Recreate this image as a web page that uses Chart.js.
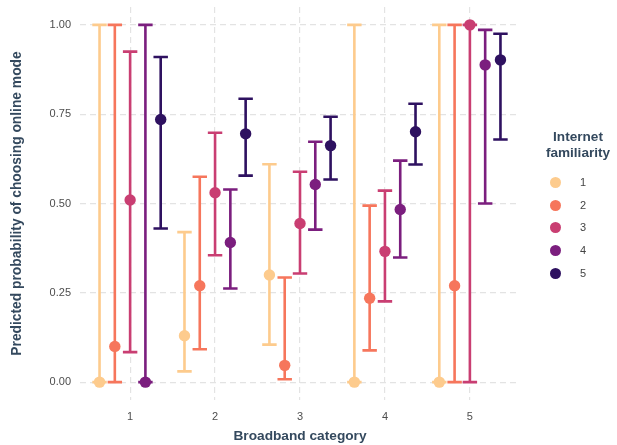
<!DOCTYPE html>
<html>
<head>
<meta charset="utf-8">
<script src="https://cdn.jsdelivr.net/npm/chart.js@4"></script>
<style>
  html, body { margin: 0; padding: 0; background: #fff; }
  #wrap { position: relative; width: 617px; height: 445px; }
  #legend {
    position: absolute; left: 530px; top: 129px; width: 96px;
    font-family: "Liberation Sans", Arial, sans-serif; color: #34495E;
  }
  #legend .title { font-weight: bold; font-size: 13.6px; text-align: center; line-height: 16px; margin-bottom: 16px; }
  #legend .item { position: relative; height: 22.7px; font-size: 11px; color: #444; }
  #legend .dot { position: absolute; left: 19.5px; top: 0px; width: 11px; height: 11px; border-radius: 50%; }
  #legend .lbl { position: absolute; left: 50px; top: -1px; }
</style>
</head>
<body>
<div id="wrap">
  <canvas id="chart" width="617" height="445"></canvas>
  <div id="legend"><div class="title">Internet<br>familiarity</div></div>
</div>
<script>
// Broadband categories (x axis) and internet familiarity levels (groups)
const categories = [1, 2, 3, 4, 5];
const familiarity = ['1', '2', '3', '4', '5'];
const colors = ['#FDCB8D', '#F6765C', '#C93E72', '#7B1E7E', '#2E1160'];

// Predicted probability and confidence limits, one array per familiarity level
const est1 = [0, 0.13, 0.30, 0, 0];
const lo1  = [0, 0.03, 0.105, 0, 0];
const hi1  = [1, 0.42, 0.61, 1, 1];

const est2 = [0.10, 0.27, 0.047, 0.235, 0.27];
const lo2  = [0, 0.092, 0.008, 0.089, 0];
const hi2  = [1, 0.575, 0.293, 0.494, 1];

const est3 = [0.51, 0.53, 0.444, 0.366, 1.0];
const lo3  = [0.084, 0.355, 0.304, 0.226, 0];
const hi3  = [0.925, 0.698, 0.589, 0.536, 1];

const est4 = [0, 0.391, 0.553, 0.483, 0.888];
const lo4  = [0, 0.262, 0.427, 0.349, 0.5];
const hi4  = [1, 0.539, 0.673, 0.62, 0.986];

const est5 = [0.735, 0.695, 0.662, 0.701, 0.902];
const lo5  = [0.43, 0.578, 0.567, 0.609, 0.679];
const hi5  = [0.91, 0.793, 0.743, 0.779, 0.975];

const yTicks = [0, 0.25, 0.5, 0.75, 1];

const estimates = [est1, est2, est3, est4, est5];
const lows = [lo1, lo2, lo3, lo4, lo5];
const highs = [hi1, hi2, hi3, hi4, hi5];

// dodge groups side by side within each category
const dodge = 0.18;
const capHalf = 0.085;

const datasets = familiarity.map((f, i) => ({
  label: f,
  data: categories.map((c, j) => ({
    x: c + (i - 2) * dodge,
    y: estimates[i][j],
    lo: lows[i][j],
    hi: highs[i][j]
  })),
  backgroundColor: colors[i],
  borderColor: colors[i],
  pointRadius: 5.7,
  pointHoverRadius: 5.7,
  borderWidth: 0
}));

// error bars drawn under the points
const errorBars = {
  id: 'errorBars',
  beforeDatasetsDraw(chart) {
    const ctx = chart.ctx;
    const xs = chart.scales.x, ys = chart.scales.y;
    ctx.save();
    ctx.lineWidth = 2.6;
    ctx.lineCap = 'butt';
    chart.data.datasets.forEach(ds => {
      ctx.strokeStyle = ds.borderColor;
      ds.data.forEach(p => {
        const x = xs.getPixelForValue(p.x);
        const x0 = xs.getPixelForValue(p.x - capHalf);
        const x1 = xs.getPixelForValue(p.x + capHalf);
        const yl = ys.getPixelForValue(p.lo);
        const yh = ys.getPixelForValue(p.hi);
        ctx.beginPath();
        ctx.moveTo(x, yl); ctx.lineTo(x, yh);
        ctx.moveTo(x0, yl); ctx.lineTo(x1, yl);
        ctx.moveTo(x0, yh); ctx.lineTo(x1, yh);
        ctx.stroke();
      });
    });
    ctx.restore();
  }
};

const gridStyle = {
  color: '#E3E3E3',
  lineWidth: 1.2,
  drawTicks: false
};

new Chart(document.getElementById('chart').getContext('2d'), {
  type: 'scatter',
  data: { datasets: datasets },
  options: {
    responsive: false,
    animation: false,
    layout: { padding: { top: 7, right: 97, left: 0, bottom: 0 } },
    plugins: {
      legend: { display: false },
      tooltip: { enabled: false }
    },
    scales: {
      x: {
        type: 'linear',
        min: 0.41,
        max: 5.59,
        afterBuildTicks: s => { s.ticks = categories.map(v => ({ value: v })); },
        afterFit: s => { s.height = 45; s.paddingLeft = 0; s.paddingRight = 0; },
        grid: gridStyle,
        border: { display: false, dash: [6, 4] },
        ticks: {
          padding: 10,
          color: '#4D4D4D',
          font: { family: 'Liberation Sans', size: 11 },
          callback: v => String(v)
        },
        title: {
          display: true,
          text: 'Broadband category',
          color: '#34495E',
          font: { family: 'Liberation Sans', size: 13.7, weight: 'bold' },
          padding: { top: 0, bottom: 1 }
        }
      },
      y: {
        min: -0.05,
        max: 1.05,
        afterBuildTicks: s => { s.ticks = yTicks.map(v => ({ value: v })); },
        afterFit: s => { s.width = 80; s.paddingTop = 0; s.paddingBottom = 0; },
        grid: gridStyle,
        border: { display: false, dash: [6, 4] },
        ticks: {
          padding: 9,
          color: '#4D4D4D',
          font: { family: 'Liberation Sans', size: 11 },
          callback: v => v.toFixed(2)
        },
        title: {
          display: true,
          text: 'Predicted probability of choosing online mode',
          color: '#34495E',
          font: { family: 'Liberation Sans', size: 13.8, weight: 'bold' },
          padding: { top: 9, bottom: 0 }
        }
      }
    }
  },
  plugins: [errorBars]
});

// legend built from the same group names and colours
const legend = document.getElementById('legend');
familiarity.forEach((f, i) => {
  const item = document.createElement('div');
  item.className = 'item';
  item.innerHTML = '<span class="dot" style="background:' + colors[i] + '"></span><span class="lbl">' + f + '</span>';
  legend.appendChild(item);
});
</script>
</body>
</html>
